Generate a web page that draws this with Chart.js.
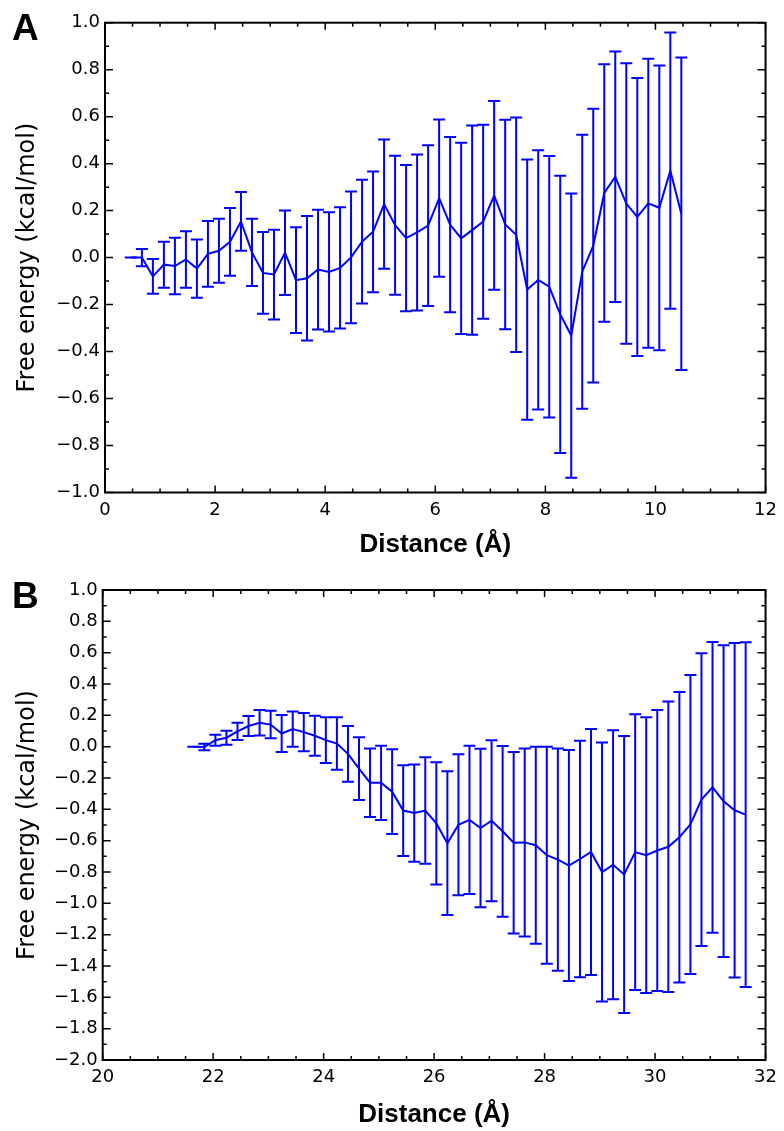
<!DOCTYPE html>
<html>
<head>
<meta charset="utf-8">
<script src="https://cdn.jsdelivr.net/npm/chart.js@4.4.1/dist/chart.umd.min.js"></script>
<style>
  html, body { margin: 0; padding: 0; background: #fff; }
  #wrap { position: relative; width: 784px; height: 1131px; }
  .panel { position: absolute; left: 0; width: 784px; }
  .tag { position: absolute; left: 12px; font: bold 37px "Liberation Sans", Arial, sans-serif; line-height: 37px; color: #000; }
</style>
</head>
<body>
<div id="wrap">
  <div class="panel" style="top:0;height:565px"><canvas id="chartA" width="784" height="565"></canvas></div>
  <div class="panel" style="top:565px;height:566px"><canvas id="chartB" width="784" height="566"></canvas></div>
  <div class="tag" style="top:9px">A</div>
  <div class="tag" style="top:577px">B</div>
</div>
<script>
// panel A: distance (Å), free energy and its error (kcal/mol)
const distA = [0.47, 0.67, 0.87, 1.07, 1.27, 1.47, 1.67, 1.87, 2.07, 2.27, 2.47,
  2.67, 2.87, 3.07, 3.27, 3.47, 3.67, 3.87, 4.07, 4.27, 4.47,
  4.67, 4.87, 5.07, 5.27, 5.47, 5.67, 5.87, 6.07, 6.27, 6.47,
  6.67, 6.87, 7.07, 7.27, 7.47, 7.67, 7.87, 8.07, 8.27, 8.47,
  8.67, 8.87, 9.07, 9.27, 9.47, 9.67, 9.87, 10.07, 10.27, 10.47];
const energyA = [0, 0.00, -0.08, -0.03, -0.036, -0.008, -0.047, 0.016, 0.029, 0.067, 0.154,
  0.022, -0.065, -0.072, 0.021, -0.096, -0.088, -0.051, -0.061, -0.044, 0.001,
  0.068, 0.11, 0.228, 0.138, 0.083, 0.107, 0.136, 0.253, 0.14, 0.082,
  0.117, 0.153, 0.265, 0.141, 0.097, -0.136, -0.095, -0.124, -0.242, -0.332,
  -0.06, 0.051, 0.275, 0.344, 0.23, 0.173, 0.231, 0.212, 0.37, 0.187];
const errA = [0, 0.037, 0.074, 0.098, 0.12, 0.12, 0.124, 0.14, 0.136, 0.144, 0.125,
  0.143, 0.174, 0.191, 0.18, 0.225, 0.265, 0.255, 0.254, 0.258, 0.28,
  0.263, 0.257, 0.275, 0.296, 0.311, 0.332, 0.342, 0.335, 0.373, 0.407,
  0.445, 0.413, 0.402, 0.446, 0.499, 0.554, 0.552, 0.557, 0.59, 0.605,
  0.583, 0.583, 0.548, 0.533, 0.597, 0.592, 0.615, 0.606, 0.588, 0.665];

// panel B
const distB = [21.64, 21.84, 22.04, 22.24, 22.44, 22.64, 22.84, 23.04, 23.24, 23.44, 23.64,
  23.84, 24.04, 24.24, 24.44, 24.64, 24.84, 25.04, 25.24, 25.44, 25.64,
  25.84, 26.04, 26.24, 26.44, 26.64, 26.84, 27.04, 27.24, 27.44, 27.64,
  27.84, 28.04, 28.24, 28.44, 28.64, 28.84, 29.04, 29.24, 29.44, 29.64,
  29.84, 30.04, 30.24, 30.44, 30.64, 30.84, 31.04, 31.24, 31.44, 31.64];
const energyB = [0, -0.002, 0.041, 0.057, 0.098, 0.132, 0.153, 0.141, 0.084, 0.112, 0.093,
  0.07, 0.042, 0.02, -0.046, -0.14, -0.23, -0.231, -0.287, -0.408, -0.424,
  -0.408, -0.49, -0.616, -0.499, -0.467, -0.519, -0.473, -0.54, -0.613, -0.611,
  -0.629, -0.693, -0.721, -0.759, -0.717, -0.672, -0.8, -0.754, -0.816, -0.673,
  -0.693, -0.663, -0.639, -0.578, -0.497, -0.338, -0.26, -0.348, -0.406, -0.434];
const errB = [0, 0.021, 0.035, 0.045, 0.055, 0.064, 0.081, 0.088, 0.118, 0.112, 0.122,
  0.128, 0.146, 0.167, 0.178, 0.2, 0.219, 0.237, 0.27, 0.29, 0.31,
  0.34, 0.39, 0.459, 0.45, 0.473, 0.506, 0.514, 0.545, 0.579, 0.6,
  0.629, 0.693, 0.71, 0.737, 0.755, 0.785, 0.826, 0.858, 0.884, 0.88,
  0.88, 0.897, 0.927, 0.927, 0.954, 0.934, 0.928, 0.995, 1.068, 1.1];

const xLabel = 'Distance (Å)';
const yLabel = 'Free energy (kcal/mol)';
const blue = '#0000ff';

// error bars drawn with the chart's own scales
const errorBarPlugin = {
  id: 'errorBars',
  afterDatasetsDraw(chart, args, opts) {
    const { ctx, scales: { x, y } } = chart;
    const pts = chart.data.datasets[0].data;
    ctx.save();
    ctx.strokeStyle = blue;
    ctx.lineWidth = 2;
    const cap = 6;
    pts.forEach((p, i) => {
      const e = opts.errors[i];
      const px = x.getPixelForValue(p.x);
      const top = y.getPixelForValue(p.y + e);
      const bot = y.getPixelForValue(p.y - e);
      ctx.beginPath();
      ctx.moveTo(px, top); ctx.lineTo(px, bot);
      ctx.moveTo(px - cap, top); ctx.lineTo(px + cap, top);
      ctx.moveTo(px - cap, bot); ctx.lineTo(px + cap, bot);
      ctx.stroke();
    });
    ctx.restore();
  }
};

// box + inward major/minor ticks on all four sides
const frameTicksPlugin = {
  id: 'frameTicks',
  afterDraw(chart, args, opts) {
    const { ctx, chartArea: a, scales: { x, y } } = chart;
    ctx.save();
    ctx.strokeStyle = '#000';
    ctx.lineWidth = 1.5;
    ctx.beginPath();
    const steps = (sc, step) => {
      const out = [];
      const n = Math.round((sc.max - sc.min) / step);
      for (let k = 0; k <= n; k++) out.push(sc.min + k * step);
      return out;
    };
    steps(x, opts.xMinor).forEach(v => {
      const px = x.getPixelForValue(v);
      const major = Math.abs((v - x.min) / opts.xMajor - Math.round((v - x.min) / opts.xMajor)) < 1e-6;
      const len = major ? 7 : 4;
      ctx.moveTo(px, a.bottom); ctx.lineTo(px, a.bottom - len);
      ctx.moveTo(px, a.top); ctx.lineTo(px, a.top + len);
    });
    steps(y, opts.yMinor).forEach(v => {
      const py = y.getPixelForValue(v);
      const major = Math.abs((v - y.min) / opts.yMajor - Math.round((v - y.min) / opts.yMajor)) < 1e-6;
      const len = major ? 8 : 4;
      ctx.moveTo(a.left, py); ctx.lineTo(a.left + len, py);
      ctx.moveTo(a.right, py); ctx.lineTo(a.right - len, py);
    });
    ctx.stroke();
    ctx.lineWidth = 2;
    ctx.strokeRect(a.left, a.top, a.right - a.left, a.bottom - a.top);
    ctx.restore();
  }
};

function fmtY(v) {
  const r = Math.round(v * 10) / 10;
  return (r < 0 ? '\u2212' : '') + Math.abs(r).toFixed(1);
}

function makeChart(id, xs, ys, errs, cfg) {
  const ctx = document.getElementById(id).getContext('2d');
  return new Chart(ctx, {
    type: 'line',
    data: {
      datasets: [{
        data: xs.map((v, i) => ({ x: v, y: ys[i] })),
        borderColor: blue,
        borderWidth: 2,
        pointRadius: 0,
        tension: 0,
        fill: false
      }]
    },
    options: {
      responsive: false,
      animation: false,
      layout: { padding: { left: 0, top: cfg.top, right: cfg.right, bottom: 0 } },
      plugins: {
        legend: { display: false },
        tooltip: { enabled: false },
        errorBars: { errors: errs },
        frameTicks: { xMinor: 0.5, xMajor: 2, yMinor: 0.1, yMajor: 0.2 }
      },
      scales: {
        x: {
          type: 'linear',
          min: cfg.xMin, max: cfg.xMax,
          grid: { display: false, drawTicks: false },
          border: { display: false },
          afterFit: s => { s.height = cfg.xHeight; },
          ticks: {
            stepSize: 2, autoSkip: false, maxRotation: 0, padding: 7,
            color: '#000', font: { family: 'DejaVu Sans', size: 18 }
          },
          title: {
            display: true, text: xLabel, color: '#000',
            font: { family: 'Liberation Sans', size: 26, weight: 'bold' },
            padding: { top: 0, bottom: cfg.xTitlePad }
          }
        },
        y: {
          min: cfg.yMin, max: cfg.yMax,
          grid: { display: false, drawTicks: false },
          border: { display: false },
          afterFit: s => { s.width = cfg.left; },
          ticks: {
            stepSize: 0.2, autoSkip: false, padding: 5,
            color: '#000', font: { family: 'DejaVu Sans', size: 18 },
            callback: fmtY
          },
          title: {
            display: true, text: yLabel, color: '#000',
            font: { family: 'DejaVu Sans', size: 24 },
            padding: { top: 13, bottom: 0 }
          }
        }
      }
    },
    plugins: [errorBarPlugin, frameTicksPlugin]
  });
}

makeChart('chartA', distA, energyA, errA, {
  xMin: 0, xMax: 12, yMin: -1, yMax: 1,
  top: 22.7, right: 16, left: 105, xHeight: 72.5, xTitlePad: 4.4
});
makeChart('chartB', distB, energyB, errB, {
  xMin: 20, xMax: 32, yMin: -2, yMax: 1,
  top: 25, right: 18.3, left: 102.7, xHeight: 71, xTitlePad: 0.5
});
</script>
</body>
</html>
